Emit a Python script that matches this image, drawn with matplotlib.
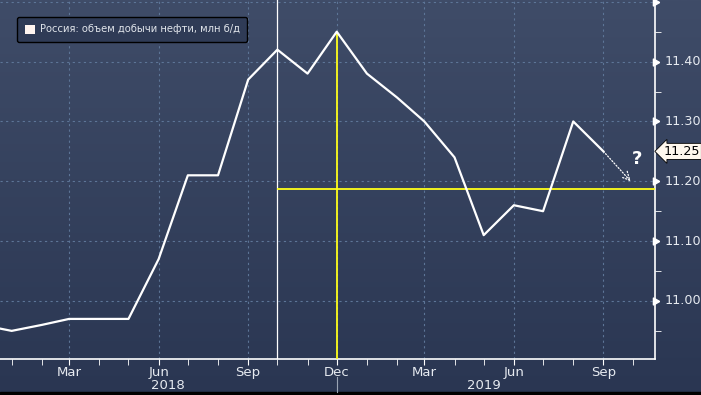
import numpy as np
import pandas as pd
import matplotlib
matplotlib.use('Agg')
import matplotlib.pyplot as plt
import matplotlib.dates as mdates
from matplotlib.patches import Patch

# Добыча нефти в России, млн б/д (помесячно)
months = pd.date_range('2017-12-01', '2019-09-01', freq='MS')
oil = [10.96, 10.95, 10.96, 10.97, 10.97, 10.97, 11.07, 11.21, 11.21, 11.37, 11.42, 11.38,
       11.45, 11.38, 11.34, 11.30, 11.24, 11.11, 11.16, 11.15, 11.30, 11.25]
forecast_date = pd.Timestamp('2019-10-01')
forecast_val = 11.20
ref_level = 11.187          # жёлтая горизонтальная линия
start_line = pd.Timestamp('2018-10-01')
peak_date = pd.Timestamp('2018-12-01')
label = 'Россия: объем добычи нефти, млн б/д'
yticks = [11.0, 11.1, 11.2, 11.3, 11.4, 11.5]

W, H = 701, 395
fig = plt.figure(figsize=(W / 100, H / 100), dpi=100)

# фон с градиентом
bg = fig.add_axes([0, 0, 1, 1])
grad = np.linspace(0, 1, 256).reshape(-1, 1)
top = np.array([0x3f, 0x4c, 0x68]) / 255
bot = np.array([0x2a, 0x36, 0x52]) / 255
img = top + (bot - top) * grad[:, :, None]
bg.imshow(img, aspect='auto', extent=[0, 1, 0, 1])
bg.axhspan(0, 3 / H, color='black')
bg.set_xlim(0, 1)
bg.set_ylim(0, 1)
bg.axis('off')

ax = fig.add_axes([0, 36 / H, 655 / W, 1 - 36 / H])
ax.set_facecolor('none')

ax.plot(months, oil, color='white', lw=1.6, zorder=5)
ax.annotate('', xy=(forecast_date - pd.Timedelta(days=2), forecast_val), xytext=(months[-1], oil[-1]),
            arrowprops=dict(arrowstyle='->,head_length=0.6,head_width=0.3', color='white',
                            ls=(0, (1, 1.5)), lw=0.9, shrinkA=0, shrinkB=0), zorder=5)
ax.text(pd.Timestamp('2019-10-06'), 11.238, '?', color='white', fontsize=13, fontweight='bold',
        ha='center', va='center')

ax.axvline(start_line, color='white', lw=0.9, zorder=4)
ax.hlines(ref_level, start_line, pd.Timestamp('2019-11-30'), color='#ffff1a', lw=1.3, zorder=4)
ax.vlines(peak_date, 10.8, oil[12], color='#ffff1a', lw=1.3, zorder=4)

ax.set_xlim(pd.Timestamp('2017-12-20'), pd.Timestamp('2019-10-24'))
ax.set_ylim(10.903, 11.503)

# оси
ax.yaxis.tick_right()
ax.set_yticks(yticks)
ax.set_yticks(np.arange(10.95, 11.5, 0.1), minor=True)
ax.set_yticklabels([])
for v in yticks:
    ax.plot(1.0, v, marker=(3, 0, 30), ms=6, color='white', transform=ax.get_yaxis_transform(),
            clip_on=False, zorder=6)
    if v < 11.45:
        ax.text(1.014, v, '%.2f' % v, transform=ax.get_yaxis_transform(), color='#e6eaf0',
                fontsize=9.2, va='center', ha='left')
ax.tick_params(axis='y', which='major', length=0, pad=0)
ax.tick_params(axis='y', which='minor', length=4, color='white', direction='out')

ax.xaxis.set_major_locator(mdates.MonthLocator(bymonth=[3, 6, 9, 12]))
ax.xaxis.set_minor_locator(mdates.MonthLocator())
ax.xaxis.set_major_formatter(mdates.DateFormatter('%b'))
ax.tick_params(axis='x', which='both', length=4, color='white', direction='out', labelcolor='#e6eaf0',
               labelsize=9.5, pad=1)
ax.text(pd.Timestamp('2018-06-10'), -0.055, '2018', transform=ax.get_xaxis_transform(), color='#e6eaf0',
        fontsize=9.5, ha='center', va='top')
ax.text(pd.Timestamp('2019-05-01'), -0.055, '2019', transform=ax.get_xaxis_transform(), color='#e6eaf0',
        fontsize=9.5, ha='center', va='top')
ax.plot([peak_date, peak_date], [-0.05, -0.092], color='#9aa4b4', lw=0.8,
        transform=ax.get_xaxis_transform(), clip_on=False)

ax.grid(True, which='major', color='#5d7597', ls=(0, (2, 3)), lw=0.8)
for s in ['top', 'left']:
    ax.spines[s].set_visible(False)
ax.spines['right'].set_color('white')
ax.spines['bottom'].set_color('white')
ax.spines['right'].set_linewidth(1.2)
ax.spines['bottom'].set_linewidth(1.2)

# ярлык последнего значения
ax.annotate('%.2f' % oil[-1], xy=(1.0, oil[-1]), xycoords=ax.get_yaxis_transform(),
            xytext=(6, 0), textcoords='offset points', fontsize=9.2, color='black', va='center',
            ha='left', bbox=dict(boxstyle='larrow,pad=0.12', fc='#fff8ee', ec='black', lw=0.6))

leg = ax.legend([Patch(facecolor='#fff5f0', edgecolor='none')], [label], loc='upper left',
                bbox_to_anchor=(17 / 655, 1 - 17 / 359), borderaxespad=0, fontsize=7.2,
                handlelength=1.0, handleheight=1.0, handletextpad=0.5, borderpad=0.75,
                frameon=True, fancybox=True, facecolor='#2f3b56', edgecolor='black', labelcolor='#e0e4ea')
leg.get_frame().set_alpha(1)
leg.get_frame().set_linewidth(1.0)

fig.savefig('out.png', dpi=100)
